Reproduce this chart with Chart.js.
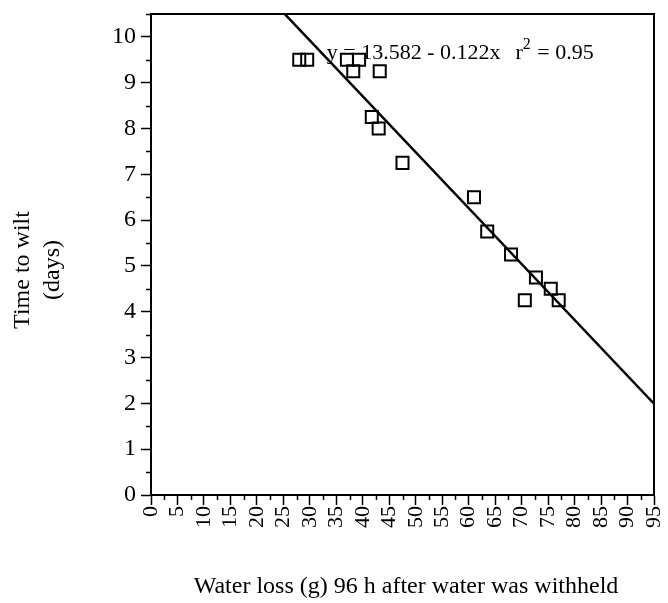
<!DOCTYPE html>
<html>
<head>
<meta charset="utf-8">
<script src="https://cdn.jsdelivr.net/npm/chart.js@4"></script>
<style>
  html, body { margin: 0; padding: 0; background: #fff; }
  #wrap { width: 668px; height: 603px; }
</style>
</head>
<body>
<div id="wrap"><canvas id="c" width="668" height="603"></canvas></div>
<script>
// ---- data ----
const waterLoss  = [28, 29.5, 37, 39.3, 38.2, 43.2, 41.7, 43, 47.5, 61, 63.5, 68, 72.7, 75.5, 77, 70.6];
const daysToWilt = [9.5, 9.5, 9.5, 9.5, 9.25, 9.25, 8.25, 8, 7.25, 6.5, 5.75, 5.25, 4.75, 4.5, 4.25, 4.25];
const fitIntercept = 13.582;
const fitSlope = -0.122;
const fitR2 = 0.95;
const fitXRange = [0, 95];
const xTickValues = [0,5,10,15,20,25,30,35,40,45,50,55,60,65,70,75,80,85,90,95];
const yTickValues = [0,1,2,3,4,5,6,7,8,9,10];
const xMinorValues = [2.5,7.5,12.5,17.5,22.5,27.5,32.5,37.5,42.5,47.5,52.5,57.5,62.5,67.5,72.5,77.5,82.5,87.5,92.5];
const yMinorValues = [0.5,1.5,2.5,3.5,4.5,5.5,6.5,7.5,8.5,9.5,10.5];
const xTitle = 'Water loss (g) 96 h after water was withheld';
const yTitleLines = ['Time to wilt', '(days)'];

const scatterPts = waterLoss.map((x, i) => ({ x: x, y: daysToWilt[i] }));
const fitPts = fitXRange.map(x => ({ x: x, y: fitIntercept + fitSlope * x }));

const FONT = '"Liberation Serif", "DejaVu Serif", serif';

const decor = {
  id: 'decor',
  afterDatasetsDraw(chart) {
    const ctx = chart.ctx;
    const a = chart.chartArea;
    const xs = chart.scales.x, ys = chart.scales.y;
    ctx.save();
    ctx.strokeStyle = '#000';
    // top and right frame
    ctx.lineWidth = 2;
    ctx.beginPath();
    ctx.moveTo(a.left, a.top); ctx.lineTo(a.right, a.top); ctx.lineTo(a.right, a.bottom);
    ctx.stroke();
    // minor ticks
    ctx.lineWidth = 1.5;
    ctx.beginPath();
    xMinorValues.forEach(v => {
      const px = Math.round(xs.getPixelForValue(v)) + 0.5;
      ctx.moveTo(px, a.bottom); ctx.lineTo(px, a.bottom + 5);
    });
    yMinorValues.forEach(v => {
      const py = Math.round(ys.getPixelForValue(v)) + 0.5;
      ctx.moveTo(a.left, py); ctx.lineTo(a.left - 5, py);
    });
    ctx.stroke();
    // equation
    ctx.fillStyle = '#000';
    ctx.font = '22px ' + FONT;
    ctx.textBaseline = 'alphabetic';
    ctx.textAlign = 'left';
    const ex = xs.getPixelForValue(33.2), ey = ys.getPixelForValue(9.52);
    const part1 = 'y = ' + fitIntercept.toFixed(3) + ' - ' + Math.abs(fitSlope).toFixed(3) + 'x';
    ctx.fillText(part1, ex, ey);
    let cx = ex + ctx.measureText(part1).width + 15;
    ctx.fillText('r', cx, ey);
    cx += ctx.measureText('r').width;
    ctx.font = '16px ' + FONT;
    ctx.fillText('2', cx, ey - 10);
    cx += ctx.measureText('2').width + 1;
    ctx.font = '22px ' + FONT;
    ctx.fillText(' = ' + fitR2.toFixed(2), cx, ey);
    // axis titles
    ctx.font = '24px ' + FONT;
    ctx.textAlign = 'center';
    ctx.textBaseline = 'middle';
    ctx.fillText(xTitle, 406, 587);
    ctx.save();
    ctx.translate(23, 270);
    ctx.rotate(-Math.PI / 2);
    ctx.fillText(yTitleLines[0], 0, 0);
    ctx.restore();
    ctx.save();
    ctx.translate(53, 270);
    ctx.rotate(-Math.PI / 2);
    ctx.fillText(yTitleLines[1], 0, 0);
    ctx.restore();
    ctx.restore();
  }
};

new Chart(document.getElementById('c'), {
  type: 'scatter',
  data: {
    datasets: [
      {
        label: 'Observed',
        data: scatterPts,
        pointStyle: 'rect',
        pointRadius: 8.5,
        pointHoverRadius: 8.5,
        pointBorderWidth: 2,
        pointBorderColor: '#000',
        pointBackgroundColor: 'rgba(0,0,0,0)',
        showLine: false
      },
      {
        label: 'Fit',
        data: fitPts,
        showLine: true,
        borderColor: '#000',
        borderWidth: 2.5,
        pointRadius: 0,
        fill: false
      }
    ]
  },
  options: {
    responsive: false,
    animation: false,
    events: [],
    layout: { padding: { left: 0, right: 14, top: 14, bottom: 0 } },
    plugins: { legend: { display: false }, tooltip: { enabled: false } },
    scales: {
      x: {
        type: 'linear',
        min: 0, max: 95,
        afterFit(s) { s.height = 108; s.paddingLeft = 0; s.paddingRight = 0; },
        afterBuildTicks(s) { s.ticks = xTickValues.map(v => ({ value: v })); },
        grid: { drawOnChartArea: false, tickLength: 10, tickWidth: 1.5, tickColor: '#000', color: '#000' },
        border: { display: true, color: '#000', width: 2 },
        ticks: { color: '#000', font: { family: FONT, size: 22 }, minRotation: 90, maxRotation: 90, autoSkip: false, padding: 1 }
      },
      y: {
        type: 'linear',
        min: 0, max: 10.5,
        afterFit(s) { s.width = 151; s.paddingTop = 0; s.paddingBottom = 0; },
        afterBuildTicks(s) { s.ticks = yTickValues.map(v => ({ value: v })); },
        grid: { drawOnChartArea: false, tickLength: 10, tickWidth: 1.5, tickColor: '#000', color: '#000' },
        border: { display: true, color: '#000', width: 2 },
        ticks: { color: '#000', font: { family: FONT, size: 24 }, padding: 5 }
      }
    }
  },
  plugins: [decor]
});
</script>
</body>
</html>
